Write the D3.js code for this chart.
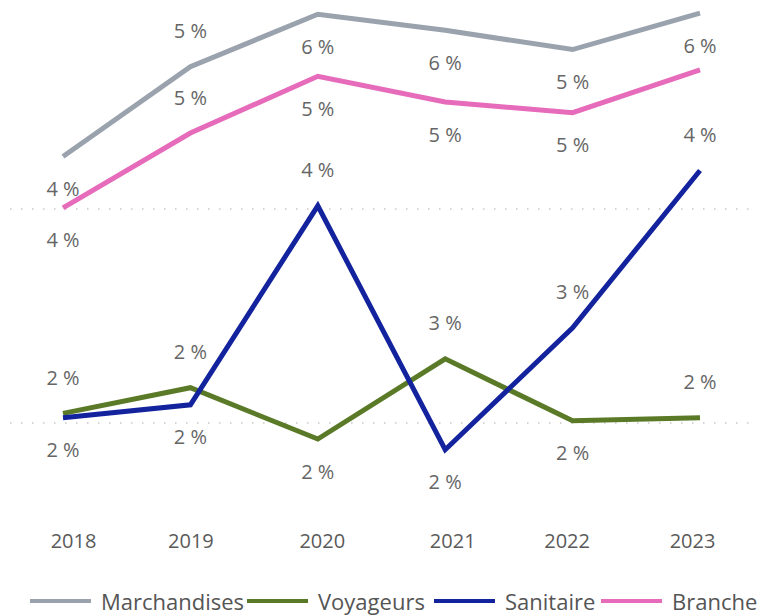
<!DOCTYPE html>
<html>
<head>
<meta charset="utf-8">
<script src="https://cdn.jsdelivr.net/npm/d3@7"></script>
<style>
  body { margin: 0; background: #fff; }
  svg { display: block; font-family: "Segoe UI", "Open Sans", "Noto Sans", sans-serif; }
</style>
</head>
<body>
<div id="chart"></div>
<script>
// Data
const years = ["2018", "2019", "2020", "2021", "2022", "2023"];
const marchandises = [4.49, 5.33, 5.82, 5.67, 5.49, 5.83];
const voyageurs = [2.09, 2.33, 1.85, 2.60, 2.02, 2.05];
const sanitaire = [2.05, 2.17, 4.03, 1.75, 2.89, 4.36];
const branche = [4.01, 4.71, 5.24, 5.00, 4.90, 5.30];
const gridValues = [2, 4];

// label placement per point: 1 = above, -1 = below, 0 = hidden
const placeMarch = [-1, 1, -1, -1, -1, -1];
const placeVoy = [1, 1, -1, 1, -1, 1];
const placeSan = [-1, -1, 1, -1, 1, 1];
const placeBr = [-1, 1, -1, -1, -1, 0];

const series = [
    { name: "Marchandises", values: marchandises, place: placeMarch, color: "#9aa3ad" },
    { name: "Voyageurs", values: voyageurs, place: placeVoy, color: "#5b7a28" },
    { name: "Sanitaire", values: sanitaire, place: placeSan, color: "#13239e" },
    { name: "Branche", values: branche, place: placeBr, color: "#e66bba" },
];

const width = 758, height = 616;

const svg = d3.select('#chart')
    .append('svg')
    .attr('width', width)
    .attr('height', height);

const x = d3.scalePoint()
    .domain(years)
    .range([63, 700]);

// 2% sits at 423px, 4% at 209px
const y = d3.scaleLinear()
    .domain([2, 4])
    .range([423, 209]);

// Dotted gridlines
svg.append('g')
    .selectAll('line')
    .data(gridValues)
    .enter()
    .append('line')
    .attr('x1', 10)
    .attr('x2', 750)
    .attr('y1', d => y(d))
    .attr('y2', d => y(d))
    .attr('stroke', '#c8c8c8')
    .attr('stroke-width', 1.5)
    .attr('stroke-dasharray', '1.5 9.5');

// X axis labels
const xAxis = d3.axisBottom(x).tickSize(0).tickPadding(0);
const axisG = svg.append('g')
    .attr('transform', 'translate(0, 534)')
    .call(xAxis);
axisG.select('.domain').remove();
axisG.selectAll('text')
    .attr('font-size', 20)
    .attr('fill', '#5a5a5a')
    .attr('dx', (d, i) => [10, 0, 4, 7, -6, -8][i]) // the original labels sit slightly off the points
    .attr('font-family', '"Segoe UI", "Open Sans", "Noto Sans", sans-serif');

// Lines
const line = d3.line()
    .x((d, i) => x(years[i]))
    .y(d => y(d));

svg.append('g')
    .selectAll('path')
    .data(series)
    .enter()
    .append('path')
    .attr('d', s => line(s.values))
    .attr('fill', 'none')
    .attr('stroke', s => s.color)
    .attr('stroke-width', 5)
    .attr('stroke-linejoin', 'miter');

// Data labels
const fmt = v => d3.format('.0f')(v) + ' %';
const labels = [];
series.forEach(s => {
    s.values.forEach((v, i) => {
        if (s.place[i] !== 0) labels.push({ v, i, p: s.place[i] });
    });
});

svg.append('g')
    .selectAll('text')
    .data(labels)
    .enter()
    .append('text')
    .attr('x', d => x(years[d.i]))
    .attr('y', d => y(d.v) + (d.p > 0 ? -36 : 32))
    .attr('text-anchor', 'middle')
    .attr('dominant-baseline', 'central')
    .attr('font-size', 20)
    .attr('fill', '#666')
    .text(d => fmt(d.v));

// Legend
const legendX = [30, 247, 434, 601];
const legend = svg.append('g').attr('transform', 'translate(0, 601)');
series.forEach((s, i) => {
    const g = legend.append('g').attr('transform', `translate(${legendX[i]}, 0)`);
    g.append('line')
        .attr('x1', 0).attr('x2', 61)
        .attr('y1', 0).attr('y2', 0)
        .attr('stroke', s.color)
        .attr('stroke-width', 4);
    g.append('text')
        .attr('x', 71)
        .attr('y', 0)
        .attr('dominant-baseline', 'central')
        .attr('font-size', 22)
        .attr('fill', '#555')
        .text(s.name);
});
</script>
</body>
</html>
